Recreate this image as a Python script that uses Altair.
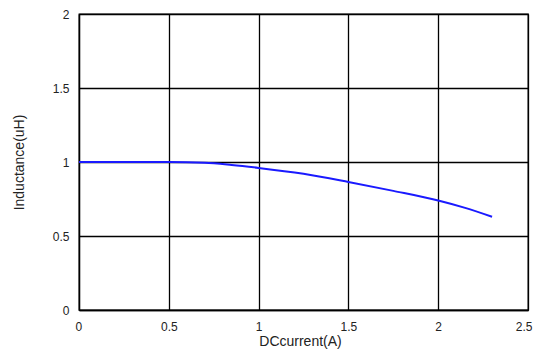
import altair as alt
import pandas as pd

current = [0.0, 0.25, 0.5, 0.7, 0.85, 1.0, 1.25, 1.5, 1.75, 2.0, 2.15, 2.3]
inductance = [1.0, 1.0, 1.0, 0.995, 0.98, 0.96, 0.92, 0.865, 0.805, 0.74, 0.69, 0.63]

df = pd.DataFrame({"current": current, "inductance": inductance})

common = dict(format="~g", grid=True, gridColor="#000", gridWidth=1.3,
              domainColor="#000", domainWidth=1.3, ticks=False,
              labelFontSize=12, titleFontSize=14, titleFontWeight="normal",
              labelFont="Liberation Sans", titleFont="Liberation Sans",
              labelColor="#222", titleColor="#222")

line = alt.Chart(df).mark_line(color="#1a1aff", strokeWidth=2, interpolate="monotone").encode(
    x=alt.X("current:Q", scale=alt.Scale(domain=[0, 2.5], nice=False),
            axis=alt.Axis(title="DCcurrent(A)", values=[0, 0.5, 1, 1.5, 2, 2.5],
                          labelFlush=True, labelFlushOffset=4,
                          labelPadding=11, titlePadding=2, titleX=221, **common)),
    y=alt.Y("inductance:Q", scale=alt.Scale(domain=[0, 2], nice=False),
            axis=alt.Axis(title="Inductance(uH)", values=[0, 0.5, 1, 1.5, 2],
                          labelFlush=False,
                          labelPadding=10, titlePadding=26, **common)),
)

chart = line.properties(
    width=449, height=296,
    autosize=alt.AutoSizeParams(type="none"),
    padding={"left": 71, "top": 6, "right": 5, "bottom": 40},
).configure_view(stroke="#000", strokeWidth=1.3)

chart.save("out.html", embed_options={"renderer": "svg", "actions": False})
